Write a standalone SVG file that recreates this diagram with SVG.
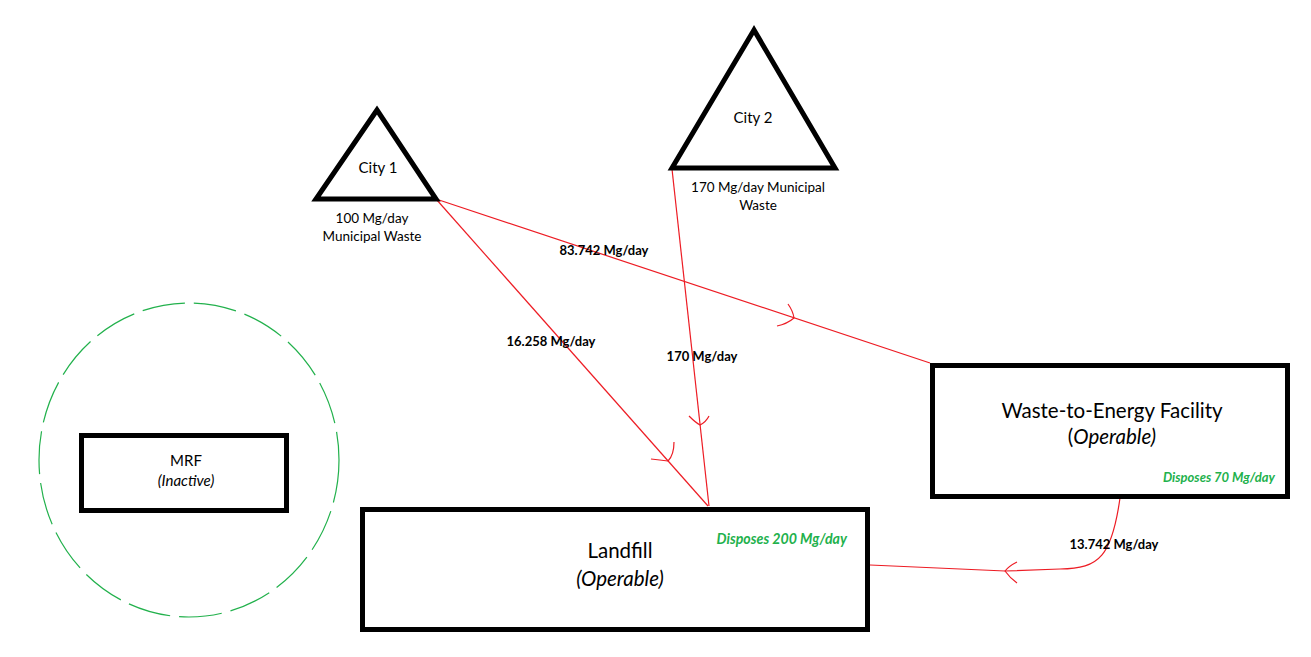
<svg xmlns="http://www.w3.org/2000/svg" width="1311" height="657" viewBox="0 0 1311 657">
<style>
  text { font-family: Lato, "Open Sans", "Liberation Sans", sans-serif; fill: #000; text-anchor: middle; }
  .node { fill: #fff; stroke: #000; }
  .tri { stroke-width: 5; stroke-linejoin: miter; }
  .box { stroke-width: 5; }
  .lbl { font-size: 13.5px; }
  .city { font-size: 15px; }
  .big { font-size: 20.5px; }
  .flow { font-size: 13px; font-weight: bold; }
  .disp { font-size: 13px; font-weight: bold; font-style: italic; fill: #22b14c; text-anchor: end; }
  .it { font-style: italic; }
  .conn { fill: none; stroke: #ed1c24; stroke-width: 1.2; }
</style>
<rect width="1311" height="657" fill="#fff"/>

<g id="mrf-zone">
  <ellipse cx="189" cy="460" rx="150" ry="157" fill="none" stroke="#22b14c" stroke-width="1.2" stroke-dasharray="43 9"/>
</g>

<g id="connectors">
  <path class="conn" d="M436,199 L930,363"/>
  <path class="conn" d="M788,304 Q793,311 794,318 Q787,324 777,326"/>
  <path class="conn" d="M436,199 L708,506"/>
  <path class="conn" d="M674,442 Q674,455 668,461 Q660,460 651,459"/>
  <path class="conn" d="M672,169 L709,506"/>
  <path class="conn" d="M689,416 Q696,423 700,425 Q706,422 709,416"/>
  <path class="conn" d="M1120,498 C1112,555 1100,569 1060,569 L1005,571 L870,565"/>
  <path class="conn" d="M1017,562 Q1009,566 1005,571 Q1010,578 1017,583"/>
</g>

<g id="city1">
  <polygon class="node tri" points="377,110 316,199 436,199"/>
  <text class="city" x="378" y="173">City 1</text>
  <text class="lbl" x="372" y="223">100 Mg/day</text>
  <text class="lbl" x="372" y="241">Municipal Waste</text>
</g>

<g id="city2">
  <polygon class="node tri" points="754,30 672,168 835,168"/>
  <text class="city" x="753" y="123">City 2</text>
  <text class="lbl" x="758" y="192">170 Mg/day Municipal</text>
  <text class="lbl" x="758" y="210">Waste</text>
</g>

<g id="mrf">
  <rect class="node box" x="81.5" y="435.5" width="205" height="75" stroke-width="4"/>
  <text class="city" x="186" y="466">MRF</text>
  <text class="city it" x="186" y="486">(Inactive)</text>
</g>

<g id="wte">
  <rect class="node box" x="932.5" y="365.5" width="355" height="131"/>
  <text class="big" x="1112" y="418">Waste-to-Energy Facility</text>
  <text class="big" x="1112" y="444">(<tspan class="it">Operable)</tspan></text>
  <text class="disp" x="1275" y="482">Disposes 70 Mg/day</text>
</g>

<g id="landfill">
  <rect class="node box" x="362.5" y="509.5" width="505" height="120"/>
  <text class="big" x="620" y="558">Landfill</text>
  <text class="big it" x="620" y="586">(Operable)</text>
  <text class="disp" x="847" y="544" style="font-size:14.2px">Disposes 200 Mg/day</text>
</g>

<g id="flow-labels">
  <text class="flow" x="604" y="255">83.742 Mg/day</text>
  <text class="flow" x="551" y="346">16.258 Mg/day</text>
  <text class="flow" x="702" y="361">170 Mg/day</text>
  <text class="flow" x="1114" y="549">13.742 Mg/day</text>
</g>
</svg>
